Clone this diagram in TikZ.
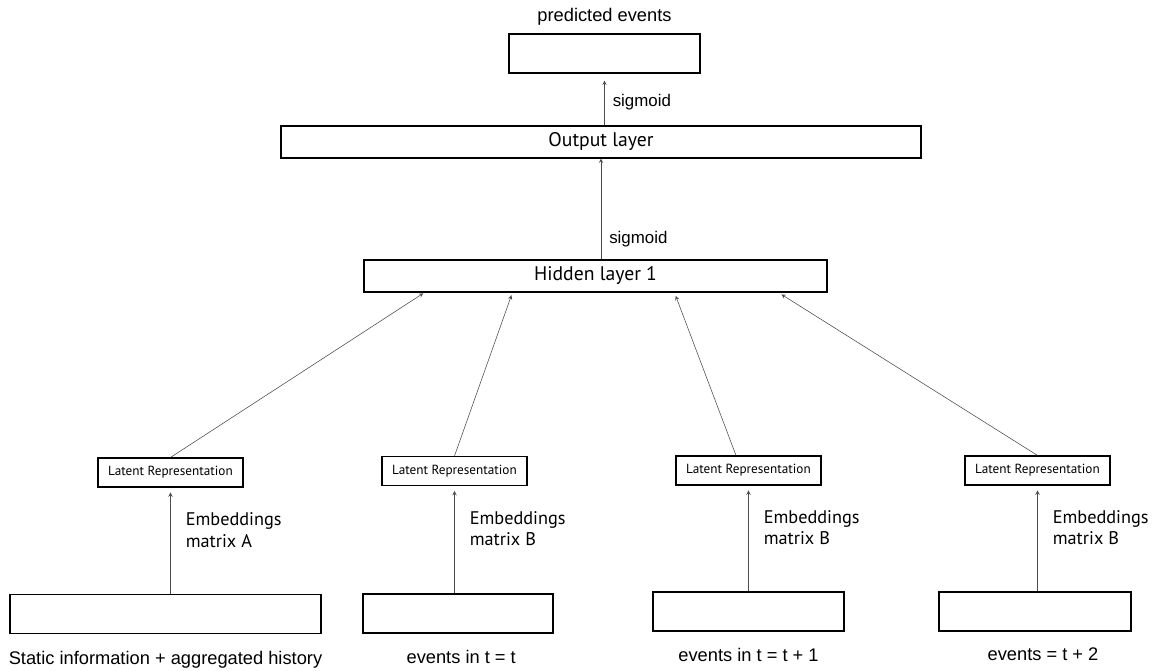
\documentclass[tikz,border=0pt]{standalone}
\usepackage{fontspec}
\setmainfont{Liberation Sans}
\newfontfamily\boxfont{PT Sans}
\usepackage{tikz}
\usetikzlibrary{positioning,calc}

\begin{document}
\begin{tikzpicture}[
    layer/.style={rectangle, draw, line width=0.8pt, inner sep=0pt, minimum height=0.8cm, font=\boxfont\fontsize{14}{16}\selectfont},
    latent/.style={rectangle, draw, line width=0.8pt, inner sep=0pt, minimum width=3.625cm, minimum height=0.725cm, font=\boxfont\fontsize{9.4}{10}\selectfont},
    inputbox/.style={rectangle, draw, line width=0.8pt, minimum height=0.975cm},
    caption/.style={inner sep=0pt, font=\fontsize{13}{15}\selectfont},
    arrlbl/.style={inner sep=0pt, font=\fontsize{12}{14}\selectfont},
    emb/.style={inner sep=0pt, align=left, font=\boxfont\fontsize{13}{15}\selectfont},
    arrow/.style={->,>=stealth,line width=0.4pt,draw=black!70}
]
\useasboundingbox (0,0) rectangle (28.825,16.775);

\node[layer, minimum width=4.775cm, minimum height=0.975cm] (pred) at (15.1125,15.4375) {};
\node[caption, above=0.2cm of pred] (predlbl) {predicted events};
\node[layer, minimum width=16cm] (output) at (15.025,13.225) {Output layer};
\node[layer, minimum width=11.575cm] (hidden) at (14.8875,9.875) {Hidden layer 1};

\node[latent] (l1) at (4.2625,4.9625) {Latent Representation};
\node[latent] (l2) at (11.3625,5.0) {Latent Representation};
\node[latent] (l3) at (18.7125,5.0125) {Latent Representation};
\node[latent] (l4) at (25.9375,5.0125) {Latent Representation};

\node[inputbox, minimum width=7.775cm] (b1) at (4.1375,1.425) {};
\node[inputbox, minimum width=4.75cm] (b2) at (11.45,1.4375) {};
\node[inputbox, minimum width=4.775cm] (b3) at (18.7125,1.4875) {};
\node[inputbox, minimum width=4.8cm] (b4) at (25.875,1.4875) {};

\node[caption, below=0.42cm of b1] (c1) {Static information + aggregated history};
\node[caption, below=0.42cm of b2, xshift=0.08cm] (c2) {events in t = t};
\node[caption, below=0.4cm of b3] (c3) {events in t = t + 1};
\node[caption, below=0.4cm of b4, xshift=0.2cm] (c4) {events = t + 2};

% inputs to latent representations
\draw[arrow, shorten >=3.5pt] (b1.north -| l1) -- node[emb, pos=0.6, right=0.375cm] {Embeddings\\matrix A} (l1.south);
\draw[arrow, shorten >=3.5pt] (b2.north -| l2) -- node[emb, pos=0.6, right=0.375cm] {Embeddings\\matrix B} (l2.south);
\draw[arrow, shorten >=3.5pt] (b3.north -| l3) -- node[emb, pos=0.6, right=0.375cm] {Embeddings\\matrix B} (l3.south);
\draw[arrow, shorten >=3.5pt] (b4.north -| l4) -- node[emb, pos=0.6, right=0.375cm] {Embeddings\\matrix B} (l4.south);

% latent representations to hidden layer
\draw[arrow, shorten >=1pt] (l1.north) -- ([xshift=1.525cm]hidden.south west);
\draw[arrow, shorten >=2pt] (l2.north) -- ([xshift=3.725cm]hidden.south west);
\draw[arrow, shorten >=2.5pt] ([xshift=-0.3125cm]l3.north) -- ([xshift=7.775cm]hidden.south west);
\draw[arrow, shorten >=2.5pt] (l4.north) -- ([xshift=10.375cm]hidden.south west);

\draw[arrow] (hidden.north -| output) -- node[arrlbl, pos=0.2, right=0.2cm] {sigmoid} (output.south);
\draw[arrow, shorten >=5pt] (output.north -| pred) -- node[arrlbl, pos=0.45, right=0.2cm] {sigmoid} (pred.south);

\end{tikzpicture}
\end{document}
